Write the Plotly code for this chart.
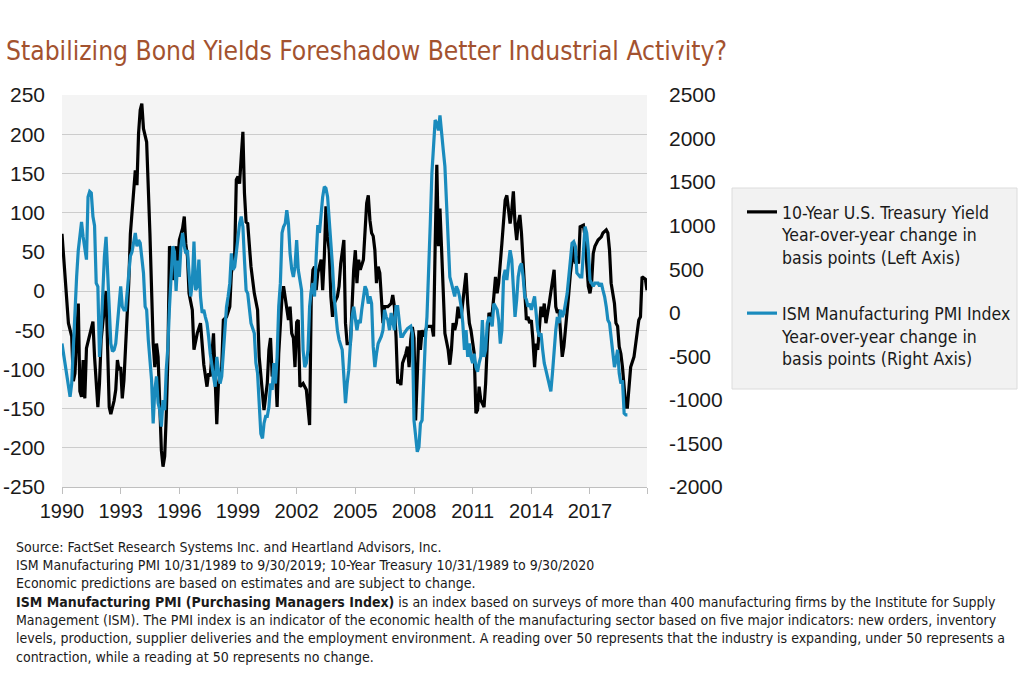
import plotly.graph_objects as go
import pandas as pd

# ---------------- data ----------------
BASE_DATE = "1990-10-31"  # first observation (month index 0)

# 10-Year U.S. Treasury yield, y/y change (bp) -- month index from BASE_DATE, value
tsy_month = [0, 4, 6, 7, 8, 10, 11, 12, 13, 14, 15, 17, 19, 20, 22, 23, 24, 27, 28, 29,
             30, 32, 33, 34, 35, 36, 37, 38, 39, 41, 42, 43, 44, 45, 46, 47, 48, 49, 50, 51,
             52, 54, 55, 56, 57, 58, 59, 60, 61, 62, 63, 64, 65, 66, 67, 68, 69, 70, 71, 72,
             74, 75, 76, 77, 78, 80, 81, 83, 85, 87, 89, 90, 91, 93, 94, 95, 96, 98, 99, 101,
             103, 104, 106, 107, 108, 109, 110, 111, 112, 113, 114, 116, 118, 120, 121, 123, 124, 126, 127, 128,
             129, 131, 132, 133, 135, 136, 138, 139, 140, 141, 142, 143, 144, 145, 146, 148, 150, 152, 153, 154,
             155, 156, 157, 158, 159, 160, 161, 162, 163, 164, 165, 166, 167, 169, 170, 171, 173, 174, 175, 177,
             178, 179, 180, 181, 182, 183, 185, 186, 187, 188, 189, 190, 191, 192, 193, 194, 195, 196, 197, 198,
             200, 202, 203, 204, 205, 206, 207, 208, 209, 211, 212, 213, 214, 215, 216, 217, 218, 219, 220, 221,
             222, 224, 227, 228, 229, 230, 231, 232, 233, 234, 235, 237, 238, 239, 240, 241, 242, 243, 244, 245,
             247, 248, 249, 250, 251, 252, 253, 254, 255, 256, 257, 259, 260, 261, 262, 263, 264, 265, 266, 267,
             268, 270, 271, 272, 273, 274, 275, 276, 277, 278, 279, 280, 281, 282, 283, 284, 285, 286, 287, 288,
             289, 290, 291, 292, 294, 295, 296, 297, 299, 300, 301, 302, 303, 304, 305, 306, 307, 308, 309, 310,
             311, 312, 313, 314, 315, 316, 317, 318, 320, 321, 322, 323, 324, 325, 326, 327, 329, 331, 332, 334,
             335, 336, 337, 339, 340, 341, 342, 343, 344, 345, 346, 347, 348, 349, 351, 353, 354, 355, 356, 358,
             359]
tsy_bp = [73, -41, -58, -115, -105, -16, -128, -135, -88, -137, -73, -54, -39, -84, -148, -118, -62, 0, -67, -148,
          -157, -140, -126, -88, -101, -97, -137, -114, -71, 10, 73, 99, 129, 154, 135, 201, 231, 239, 207, 197,
          190, 74, -7, -67, -97, -67, -84, -143, -203, -224, -211, -160, -84, 57, 50, 14, 45, 57, 35, 65,
          80, 95, 60, 44, -3, -24, -75, -54, -41, -94, -122, -105, -109, -54, -126, -170, -118, -97, -37, -33,
          -20, 23, 48, 142, 146, 137, 171, 203, 125, 88, 86, 31, -3, -24, -84, -126, -152, -118, -75, -60,
          -109, -101, -148, -80, -7, 6, -20, -37, -20, -54, -60, -97, -40, -37, -122, -118, -126, -171, -7, 27,
          31, 1, 23, 31, 40, 1, 44, 108, 69, 52, -7, -33, -16, -7, 6, 35, 65, -41, -67, -67,
          -11, 27, 52, 10, 40, 27, 40, 86, 112, 122, 90, 74, 70, 52, 10, 31, 23, -7, -41, -20,
          -20, -16, -5, -20, -58, -118, -113, -120, -92, -80, -71, -97, -62, -46, -60, -165, -110, -50, -75, -50,
          -58, -45, -45, -58, 57, 161, 57, 105, 52, -7, -54, -75, -94, -75, -41, -50, -41, -20, -33, -33,
          1, 23, -16, -41, -50, -67, -80, -156, -152, -122, -139, -148, -118, -67, -28, -33, -28, -7, 18, -3,
          10, 61, 86, 116, 122, 103, 86, 103, 127, 86, 65, 86, 97, 74, 44, 1, -37, -33, -41, -37,
          -62, -97, -67, -75, -20, -33, -16, -41, -16, 1, 10, 27, -20, -28, -24, -50, -84, -71, -50, -28,
          -3, 23, 44, 57, 35, 44, 35, 82, 84, 69, 35, 6, -3, 10, 48, 57, 65, 69, 74, 78,
          74, 52, 10, -16, -41, -45, -71, -80, -97, -118, -148, -148, -126, -97, -84, -54, -37, -33, 18, 15,
          1]

# ISM Manufacturing PMI, y/y change (bp) -- month index from BASE_DATE, value
pmi_month = [0, 3, 5, 6, 8, 9, 10, 12, 13, 15, 16, 17, 18, 19, 20, 21, 22, 23, 24, 25,
             26, 27, 28, 29, 30, 31, 32, 33, 34, 35, 36, 37, 38, 39, 40, 41, 42, 43, 44, 45,
             46, 47, 48, 49, 50, 51, 52, 53, 54, 55, 56, 57, 58, 59, 60, 61, 62, 63, 64, 65,
             66, 67, 68, 69, 70, 71, 72, 73, 74, 75, 76, 77, 79, 80, 81, 82, 83, 84, 85, 86,
             87, 88, 89, 90, 91, 93, 94, 95, 96, 97, 98, 99, 100, 101, 102, 103, 104, 105, 106, 107,
             108, 109, 110, 111, 112, 113, 114, 115, 116, 118, 119, 120, 121, 122, 123, 124, 125, 126, 127, 128,
             129, 130, 131, 132, 133, 134, 135, 136, 137, 138, 139, 140, 141, 142, 143, 144, 145, 147, 148, 149,
             150, 151, 152, 153, 154, 155, 156, 157, 158, 159, 160, 161, 162, 163, 164, 165, 166, 167, 168, 169,
             170, 171, 172, 173, 174, 175, 176, 177, 178, 179, 180, 181, 182, 183, 184, 185, 186, 187, 188, 189,
             190, 191, 192, 193, 194, 196, 197, 198, 199, 200, 201, 202, 204, 205, 206, 208, 209, 210, 212, 214,
             215, 216, 217, 218, 219, 220, 221, 222, 223, 224, 225, 226, 227, 228, 229, 230, 231, 232, 233, 234,
             235, 236, 237, 238, 239, 240, 241, 242, 243, 244, 245, 246, 247, 248, 249, 250, 251, 252, 253, 254,
             255, 256, 257, 258, 259, 260, 261, 262, 263, 264, 265, 266, 267, 268, 269, 270, 271, 272, 273, 274,
             275, 276, 278, 279, 280, 281, 282, 283, 284, 285, 286, 287, 288, 290, 291, 292, 293, 294, 295, 296,
             297, 298, 299, 300, 301, 302, 303, 304, 305, 306, 307, 308, 309, 310, 311, 312, 313, 314, 315, 316,
             318, 319, 320, 321, 322, 323, 324, 326, 327, 329, 330, 331, 332, 333, 334, 335, 336, 337, 338, 339,
             340, 341, 342, 343, 344, 345, 346, 347]
pmi_bp = [-353, -695, -965, -812, 70, 412, 718, 1042, 871, 610, 1330, 1393, 1375, 1105, 1000, 340, 300, -506, -200, 260,
          646, 871, 412, -47, -353, -443, -425, -353, -119, 106, 304, 70, 32, 32, 250, 480, 650, 700, 800, 916,
          763, 835, 800, 646, 457, 70, 34, -310, -506, -770, -1271, -884, -731, -1037, -1118, -1307, -1001, -1118, -659, -389,
          70, 500, 763, 700, 250, 600, 412, 763, 916, 763, 682, 718, 187, 340, 817, 260, 300, 610, 187, -2,
          34, -47, -119, -272, -470, -731, -848, -506, -659, -812, -731, -425, -119, 70, 187, 340, 682, 493, 529, 718,
          871, 1024, 1105, 988, 610, 259, 223, 34, -119, -236, -578, -695, -1118, -1388, -1442, -1271, -1190, -1190, -1082, -812,
          -884, -578, -812, -506, 70, 340, 916, 988, 1024, 1177, 1024, 682, 500, 412, 529, 835, 493, 259, -425, -623,
          -578, -425, 70, 259, 340, 187, 646, 1006, 916, 1141, 1330, 1447, 1429, 1330, 1105, 835, 529, 187, -47, -200,
          -308, -389, -425, -731, -1037, -812, -659, -353, -47, 70, -47, -200, -83, -119, 34, 200, 304, 259, 106, 187,
          106, -389, -623, -470, -353, -272, -200, 34, -47, -83, -200, -2, -200, 70, 70, -272, -272, -236, -182, -155,
          -236, -1235, -1424, -1595, -1541, -1271, -1235, -695, -308, -47, 412, 1024, 1600, 1987, 2212, 2176, 2095, 2266, 2023, 1870,
          1681, 1222, 718, 412, 340, 259, 187, 304, 259, 187, 70, -119, -425, -200, -506, -353, -506, -578, -470, -623,
          -677, -578, -506, -83, -506, -425, -119, -47, -83, -155, 106, 70, 34, -83, -353, -200, 412, 493, 376, 565,
          718, 610, -47, 151, 412, 529, 565, 412, 187, 151, 70, 106, 34, 187, -47, -200, -272, -236, -425, -578,
          -659, -731, -812, -902, -695, -425, -200, -47, -119, 34, -47, -2, 106, 223, 412, 646, 799, 817, 763, 457,
          412, 412, 700, 988, 916, 718, 376, 304, 340, 340, 304, 340, 259, 187, 70, -83, -119, -272, -425, -623,
          -542, -425, -695, -812, -776, -1154, -1172, -1172]

tick_month = [0, 36, 72, 108, 144, 180, 216, 252, 288, 324, 359]
tick_text = ["1990", "1993", "1996", "1999", "2002", "2005", "2008", "2011", "2014", "2017", ""]

left_ticks = [-250, -200, -150, -100, -50, 0, 50, 100, 150, 200, 250]
left_labels = ["-250", "-200", "-150", "-100", "-50", "0", "50", "100", "150", "200", "250"]
right_ticks = [-2000, -1500, -1000, -500, 0, 500, 1000, 1500, 2000, 2500]
right_labels = ["-2000", "-1500", "-1000", "-500", "0", "500", "1000", "1500", "2000", "2500"]

tsy_name = "10-Year U.S. Treasury Yield<br>Year-over-year change in<br>basis points (Left Axis)"
pmi_name = "ISM Manufacturing PMI Index<br>Year-over-year change in<br>basis points (Right Axis)"

title_text = "Stabilizing Bond Yields Foreshadow Better Industrial Activity?"
footer_lines = [
    "Source: FactSet Research Systems Inc. and Heartland Advisors, Inc.",
    "ISM Manufacturing PMI 10/31/1989 to 9/30/2019; 10-Year Treasury 10/31/1989 to 9/30/2020",
    "Economic predictions are based on estimates and are subject to change.",
    "<b>ISM Manufacturing PMI (Purchasing Managers Index)</b> is an index based on surveys of more than 400 manufacturing firms by the Institute for Supply",
    "Management (ISM). The PMI index is an indicator of the economic health of the manufacturing sector based on five major indicators: new orders, inventory",
    "levels, production, supplier deliveries and the employment environment. A reading over 50 represents that the industry is expanding, under 50 represents a",
    "contraction, while a reading at 50 represents no change.",
]

# ---------------- layout helpers (screen pixels) ----------------
base = pd.Timestamp(BASE_DATE)


def to_dates(months):
    return [(base + pd.offsets.MonthEnd(m)).strftime("%Y-%m-%d") for m in months]


W, H = 1024, 695
PL, PR, PT, PB = 62, 647, 95, 487  # plot area in pixels


def px_x(px):
    return (px - PL) / (PR - PL)


def px_y(py):
    return (PB - py) / (PB - PT)


NARROW = "DejaVu Sans Condensed, Liberation Sans Narrow, sans-serif"
SANS = "Liberation Sans, Arial, sans-serif"
TXT = "#1a1a1a"

fig = go.Figure()
fig.add_trace(go.Scatter(
    x=to_dates(tsy_month), y=tsy_bp, name=tsy_name, mode="lines",
    line=dict(color="#000000", width=3.2), yaxis="y", legendgroup="a"))
fig.add_trace(go.Scatter(
    x=to_dates(pmi_month), y=pmi_bp, name=pmi_name, mode="lines",
    line=dict(color="#1a8bbd", width=3.2), yaxis="y2", legendgroup="b"))

fig.update_layout(
    width=W, height=H,
    margin=dict(l=PL, r=W - PR, t=PT, b=H - PB, autoexpand=False),
    paper_bgcolor="white",
    plot_bgcolor="#f4f4f4",
    xaxis=dict(type="date", automargin=False,
               range=to_dates([0, 359]),
               tickvals=to_dates(tick_month), ticktext=tick_text,
               ticks="outside", ticklen=6, tickcolor="#bfbfbf", tickwidth=1,
               showline=True, linecolor="#bfbfbf", linewidth=1,
               showgrid=False, zeroline=False,
               tickfont=dict(family=SANS, size=20, color=TXT)),
    yaxis=dict(range=[-250, 250], tickvals=left_ticks, ticktext=left_labels, automargin=False,
               showgrid=True, gridcolor="#cccccc", gridwidth=1,
               zeroline=False, showline=False, ticks="",
               ticklabelstandoff=16,
               tickfont=dict(family=SANS, size=21, color=TXT)),
    yaxis2=dict(range=[-2000, 2500], tickvals=right_ticks, ticktext=right_labels,
                overlaying="y", side="right", automargin=False,
                showgrid=False, zeroline=False, showline=False, ticks="",
                ticklabelstandoff=21,
                tickfont=dict(family=SANS, size=21, color=TXT)),
    legend=dict(x=px_x(742), y=px_y(194), xanchor="left", yanchor="top",
                bgcolor="rgba(0,0,0,0)", valign="top", tracegroupgap=30,
                font=dict(family=NARROW, size=17.5, color=TXT)),
    showlegend=True,
)

# title
fig.add_annotation(text=title_text, xref="paper", yref="paper",
                   x=px_x(4), y=px_y(51), xanchor="left", yanchor="middle",
                   showarrow=False, font=dict(family=NARROW, size=26.2, color="#a3522f"))

# legend box
fig.add_shape(type="rect", xref="paper", yref="paper",
              x0=px_x(732), x1=px_x(1017), y0=px_y(389), y1=px_y(188),
              fillcolor="#f2f2f2", line=dict(color="#dcdcdc", width=1), layer="below")

# footer
footer_y = [547, 565, 583, 602, 620, 638, 657]
for txt, yy in zip(footer_lines, footer_y):
    fig.add_annotation(text=txt, xref="paper", yref="paper", x=px_x(14), y=px_y(yy),
                       xanchor="left", yanchor="middle", showarrow=False,
                       font=dict(family=NARROW, size=14, color=TXT))

# remove the default 8px page margin so the figure sits at the window's top-left corner
fig.write_html("out.html", config={"displayModeBar": False},
               post_script="document.body.style.margin='0px';")
